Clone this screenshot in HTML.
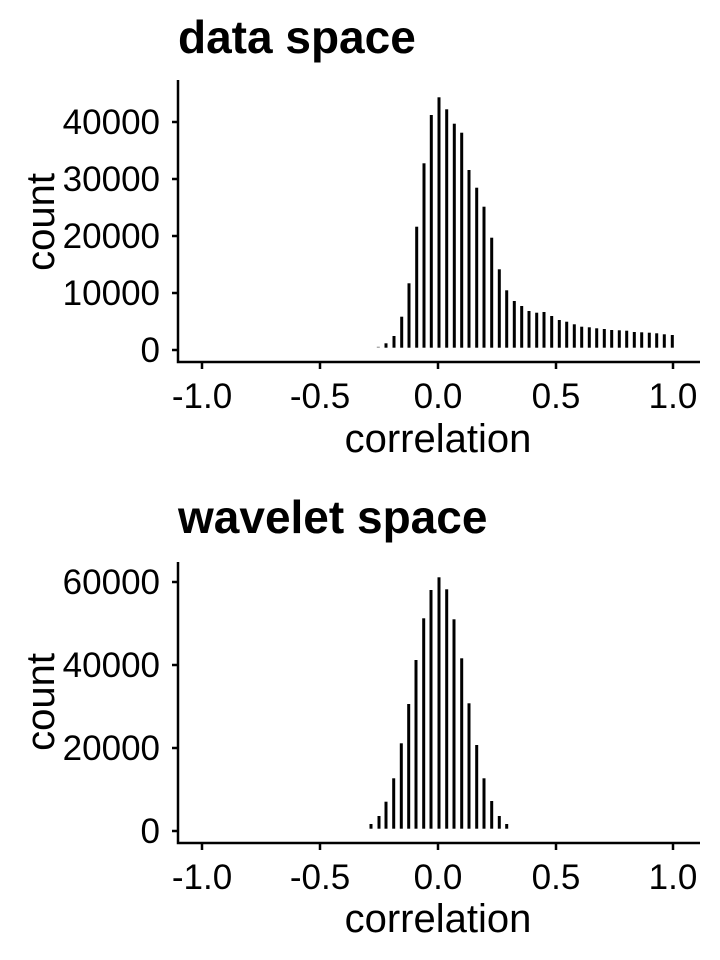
<!DOCTYPE html>
<html><head><style>body{margin:0;background:#fff}svg{display:block}text{font-family:"Liberation Sans",Arial,sans-serif;fill:#000}</style></head><body>
<svg width="720" height="960" viewBox="0 0 720 960" xmlns="http://www.w3.org/2000/svg">
<text x="178" y="53" font-size="46" font-weight="bold" style="font-size:46px">data space</text>
<text x="178" y="533" font-size="46" font-weight="bold" style="font-size:46px">wavelet space</text>
<g stroke="#000" stroke-width="2.5" fill="none">
<path d="M178,80V362H700"/>
<path d="M172,350H178M172,293H178M172,236H178M172,179H178M172,122H178"/>
<path d="M202,362V369M320,362V369M438,362V369M556,362V369M673,362V369"/>
<path d="M178,562V843H700"/>
<path d="M172,831H178M172,748H178M172,665H178M172,582H178"/>
<path d="M202,843V850M320,843V850M438,843V850M556,843V850M673,843V850"/>
</g>
<g style="font-size:35px" text-anchor="end">
<text x="160" y="362">0</text><text x="160" y="305">10000</text><text x="160" y="248">20000</text><text x="160" y="191">30000</text><text x="160" y="134">40000</text>
<text x="160" y="843">0</text><text x="160" y="760">20000</text><text x="160" y="677">40000</text><text x="160" y="594">60000</text>
</g>
<g style="font-size:35px" text-anchor="middle">
<text x="202" y="408">-1.0</text><text x="320" y="408">-0.5</text><text x="438" y="408">0.0</text><text x="556" y="408">0.5</text><text x="673" y="408">1.0</text>
<text x="202" y="889">-1.0</text><text x="320" y="889">-0.5</text><text x="438" y="889">0.0</text><text x="556" y="889">0.5</text><text x="673" y="889">1.0</text>
<text x="438" y="452" style="font-size:40px">correlation</text>
<text x="438" y="932" style="font-size:40px">correlation</text>
<text transform="translate(54,222) rotate(-90)" style="font-size:40px">count</text>
<text transform="translate(54,702) rotate(-90)" style="font-size:40px">count</text>
</g>
<g fill="#000">
<rect x="376.8" y="346.7" width="3" height="1" fill="#888"/>
<rect x="384.5" y="343.3" width="3" height="4.4"/><rect x="392.5" y="336" width="3" height="11.7"/><rect x="400.2" y="316.7" width="3" height="31"/><rect x="407.5" y="283.3" width="3" height="64.4"/><rect x="415.2" y="226.7" width="3" height="121"/><rect x="422.5" y="163.3" width="3" height="184.4"/><rect x="429.8" y="115" width="3" height="232.7"/><rect x="437.5" y="97.3" width="3" height="250.4"/><rect x="445.2" y="109.3" width="3" height="238.4"/><rect x="452.8" y="123.7" width="3" height="224"/><rect x="460.2" y="132.7" width="3" height="215"/><rect x="467.5" y="170" width="3" height="177.7"/><rect x="475.2" y="187.7" width="3" height="160"/><rect x="482.5" y="206.7" width="3" height="141"/><rect x="490.2" y="237.7" width="3" height="110"/><rect x="497.8" y="269.3" width="3" height="78.4"/><rect x="505.2" y="290.3" width="3" height="57.4"/><rect x="512.8" y="301" width="3" height="46.7"/><rect x="520.2" y="306" width="3" height="41.7"/><rect x="527.5" y="311" width="3" height="36.7"/><rect x="535.2" y="312.7" width="3" height="35"/><rect x="542.5" y="312" width="3" height="35.7"/><rect x="550.2" y="316" width="3" height="31.7"/><rect x="557.8" y="320" width="3" height="27.7"/><rect x="565.2" y="321.7" width="3" height="26"/><rect x="572.8" y="324.3" width="3" height="23.4"/><rect x="580.2" y="326.7" width="3" height="21"/><rect x="587.8" y="327.3" width="3" height="20.4"/><rect x="595.2" y="328.3" width="3" height="19.4"/><rect x="602.8" y="329" width="3" height="18.7"/><rect x="610.2" y="330" width="3" height="17.7"/><rect x="617.8" y="330.3" width="3" height="17.4"/><rect x="625.2" y="330.7" width="3" height="17"/><rect x="632.8" y="332" width="3" height="15.7"/><rect x="640.2" y="332.3" width="3" height="15.4"/><rect x="647.8" y="332.7" width="3" height="15"/><rect x="655.2" y="333.3" width="3" height="14.4"/><rect x="662.8" y="334.3" width="3" height="13.4"/><rect x="670.8" y="335" width="3" height="12.7"/>
<rect x="369.5" y="824" width="3" height="4.7"/><rect x="377.5" y="816" width="3" height="12.7"/><rect x="384.5" y="801.7" width="3" height="27"/><rect x="392.2" y="778.3" width="3" height="50.4"/><rect x="399.8" y="743.3" width="3" height="85.4"/><rect x="407.2" y="704" width="3" height="124.7"/><rect x="414.5" y="660" width="3" height="168.7"/><rect x="422.2" y="618.3" width="3" height="210.4"/><rect x="429.5" y="590" width="3" height="238.7"/><rect x="437.5" y="577.3" width="3" height="251.4"/><rect x="445.2" y="589.3" width="3" height="239.4"/><rect x="452.5" y="619.3" width="3" height="209.4"/><rect x="460.2" y="658.3" width="3" height="170.4"/><rect x="467.5" y="703.3" width="3" height="125.4"/><rect x="475.2" y="745" width="3" height="83.7"/><rect x="482.5" y="778.3" width="3" height="50.4"/><rect x="490.2" y="801" width="3" height="27.7"/><rect x="497.8" y="816" width="3" height="12.7"/><rect x="505.2" y="824" width="3" height="4.7"/>
</g>
</svg>
</body></html>
